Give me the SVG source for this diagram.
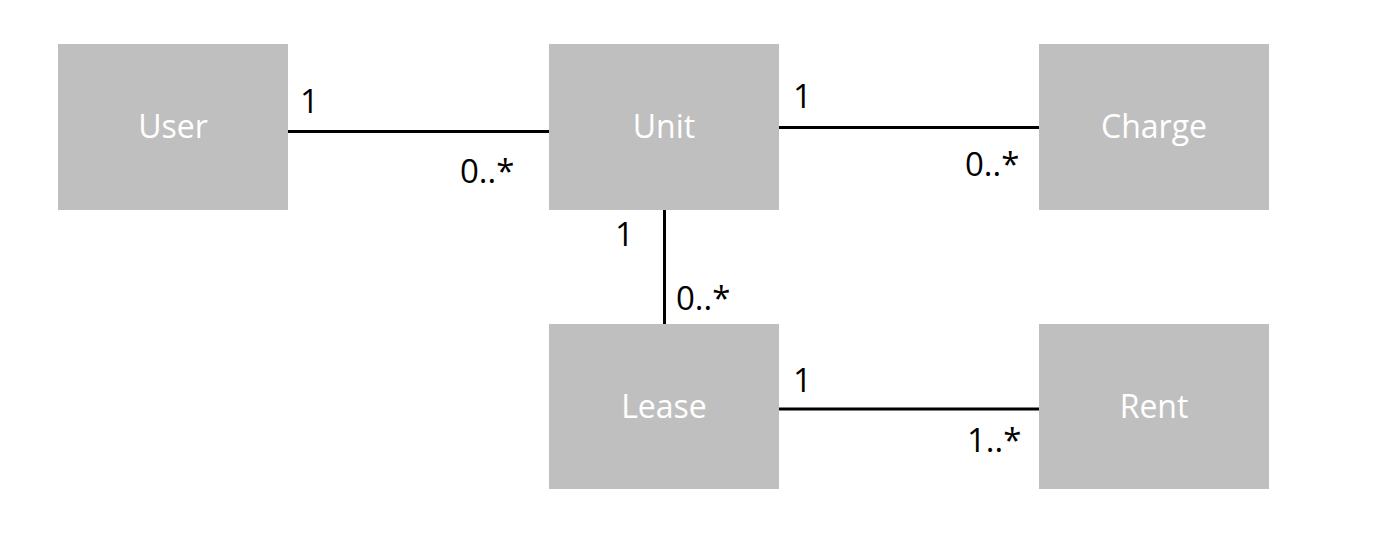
<svg xmlns="http://www.w3.org/2000/svg" width="1376" height="546" viewBox="0 0 1376 546">
<style>
.box{fill:#bfbfbf}
.name{font-family:"Open Sans","Liberation Sans",sans-serif;font-size:32px;fill:#ffffff;text-anchor:middle}
.lbl{font-family:"Open Sans","Liberation Sans",sans-serif;font-size:33px;fill:#000000}
.ln{stroke:#000000;stroke-width:3;fill:none}
</style>
<rect width="1376" height="546" fill="#ffffff"/>
<g id="connectors">
<line class="ln" x1="288" y1="131.5" x2="549" y2="131.5"/>
<line class="ln" x1="779" y1="127.5" x2="1039" y2="127.5"/>
<line class="ln" x1="664.5" y1="210" x2="664.5" y2="324"/>
<line class="ln" x1="779" y1="409" x2="1039" y2="409"/>
<text class="lbl" x="300" y="113">1</text>
<text class="lbl" x="460" y="183">0..*</text>
<text class="lbl" x="793" y="108">1</text>
<text class="lbl" x="965" y="176">0..*</text>
<text class="lbl" x="615" y="246">1</text>
<text class="lbl" x="676" y="310">0..*</text>
<text class="lbl" x="793" y="392">1</text>
<text class="lbl" x="967" y="452">1..*</text>
</g>
<g id="user"><rect class="box" x="58" y="44" width="230" height="166"/><text class="name" x="173" y="138">User</text></g>
<g id="unit"><rect class="box" x="549" y="44" width="230" height="166"/><text class="name" x="664" y="138">Unit</text></g>
<g id="charge"><rect class="box" x="1039" y="44" width="230" height="166"/><text class="name" x="1154" y="138">Charge</text></g>
<g id="lease"><rect class="box" x="549" y="324" width="230" height="165"/><text class="name" x="664" y="418">Lease</text></g>
<g id="rent"><rect class="box" x="1039" y="324" width="230" height="165"/><text class="name" x="1154" y="418">Rent</text></g>
</svg>
